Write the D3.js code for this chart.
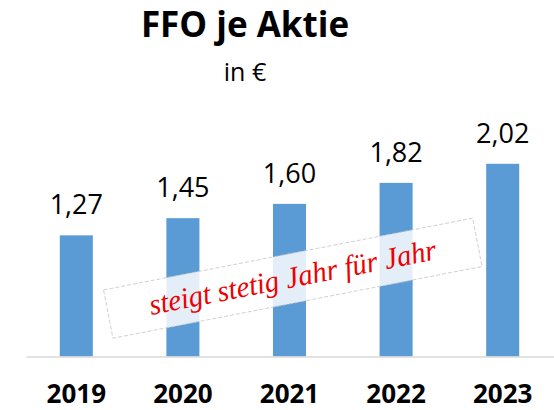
<!DOCTYPE html>
<html>
<head>
<meta charset="utf-8">
<script src="https://cdn.jsdelivr.net/npm/d3@7"></script>
<style>
  html, body { margin: 0; padding: 0; background: #fff; }
  svg { display: block; }
</style>
</head>
<body>
<svg id="chart" width="554" height="410"></svg>
<script>
// FFO per share, in euro
const years = ["2019", "2020", "2021", "2022", "2023"];
const ffoValues = [1.27, 1.45, 1.60, 1.82, 2.02];
const valueLabels = ["1,27", "1,45", "1,60", "1,82", "2,02"];
const titleText = "FFO je Aktie";
const subtitleText = "in €";
const bannerText = "steigt stetig Jahr für Jahr";

const svg = d3.select("#chart");
const baseY = 356.5;

const x = d3.scaleBand()
  .domain(years)
  .range([23, 556])
  .paddingInner(0.69)
  .paddingOuter(0.345);

const y = d3.scaleLinear()
  .domain([0, 2.5])
  .range([baseY, baseY - 238.5]);

// Title
svg.append("text")
  .attr("x", 245).attr("y", 37)
  .attr("text-anchor", "middle")
  .style("font-family", "'Open Sans', sans-serif")
  .style("font-weight", "bold")
  .style("font-size", "35px")
  .attr("fill", "#000")
  .text(titleText);

svg.append("text")
  .attr("x", 245).attr("y", 81)
  .attr("text-anchor", "middle")
  .style("font-family", "'Open Sans', sans-serif")
  .style("font-size", "25px")
  .attr("fill", "#000")
  .text(subtitleText);

// Bars
svg.append("g").selectAll("rect")
  .data(years)
  .join("rect")
  .attr("x", d => x(d))
  .attr("y", (d, i) => y(ffoValues[i]))
  .attr("width", x.bandwidth())
  .attr("height", (d, i) => y(0) - y(ffoValues[i]))
  .attr("fill", "#5b9bd5");

// Value labels
svg.append("g").selectAll("text")
  .data(years)
  .join("text")
  .attr("x", d => x(d) + x.bandwidth() / 2)
  .attr("y", (d, i) => y(ffoValues[i]) - 21)
  .attr("text-anchor", "middle")
  .style("font-family", "'Open Sans', sans-serif")
  .style("font-size", "27px")
  .attr("fill", "#000")
  .text((d, i) => valueLabels[i]);

// Category axis
const xAxis = svg.append("g")
  .attr("transform", `translate(0,${baseY})`)
  .call(d3.axisBottom(x).tickSize(0).tickPadding(30));
xAxis.select(".domain").remove();
xAxis.append("line")
  .attr("x1", 26.5).attr("x2", 554)
  .attr("y1", 0.5).attr("y2", 0.5)
  .attr("stroke", "#d9d9d9")
  .attr("stroke-width", 1.5);
xAxis.selectAll(".tick text")
  .style("font-family", "'Open Sans', sans-serif")
  .style("font-weight", "bold")
  .style("font-size", "26px")
  .attr("fill", "#000")
  .attr("dy", "0")
  .attr("y", 46);

// Tilted note banner
const banner = svg.append("g")
  .attr("transform", "translate(292.8,278.2) rotate(-11)");
banner.append("rect")
  .attr("x", -188).attr("y", -24.6)
  .attr("width", 376).attr("height", 49.2)
  .attr("fill", "#fff")
  .attr("fill-opacity", 0.83)
  .attr("stroke", "#c8c8c8")
  .attr("stroke-width", 0.8)
  .attr("stroke-dasharray", "4,2");
banner.append("text")
  .attr("x", 0).attr("y", 9)
  .attr("text-anchor", "middle")
  .attr("textLength", 292)
  .attr("lengthAdjust", "spacingAndGlyphs")
  .style("font-family", "'Liberation Serif', serif")
  .style("font-style", "italic")
  .style("font-size", "30px")
  .attr("fill", "#ee0000")
  .text(bannerText);
</script>
</body>
</html>
